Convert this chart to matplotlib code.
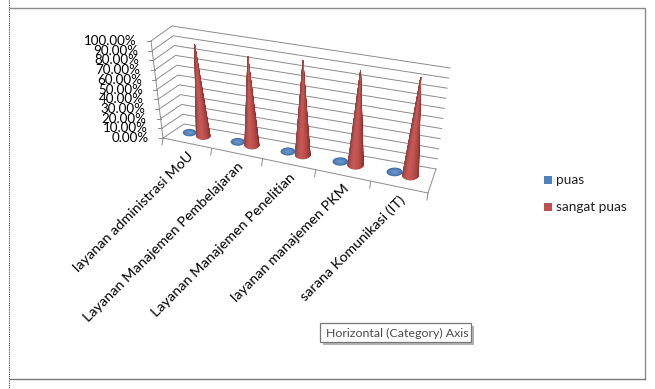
import numpy as np
import matplotlib
matplotlib.use("Agg")
import matplotlib.pyplot as plt
from matplotlib.patches import Polygon, Rectangle, Ellipse

plt.rcParams['font.family'] = ['Lato', 'DejaVu Sans']

categories = ["layanan administrasi MoU", "Layanan Manajemen Pembelajaran",
              "Layanan Manajemen Penelitian", "layanan manajemen PKM",
              "sarana Komunikasi (IT)"]
puas = [0.6, 0.6, 0.6, 0.6, 0.6]
sangat_puas = [93, 90, 95, 95, 98]
y_ticks = [0, 10, 20, 30, 40, 50, 60, 70, 80, 90, 100]
series_names = ["puas", "sangat puas"]

# corners of the 3d box as seen on screen (u along categories, v depth, h height)
floor_front = np.array([[163, 138], [428, 193]], float)
floor_back = np.array([[184, 124], [436, 169]], float)
top_front = np.array([[151, 41], [439, 93]], float)
top_back = np.array([[172, 26], [450, 68]], float)


def warp(u):
    return u - 0.1 * u * (1 - u)


def project(u, v, h):
    t = warp(u)
    f0 = floor_front[0] * (1 - t) + floor_front[1] * t
    b0 = floor_back[0] * (1 - t) + floor_back[1] * t
    f1 = top_front[0] * (1 - t) + top_front[1] * t
    b1 = top_back[0] * (1 - t) + top_back[1] * t
    low = f0 * (1 - v) + b0 * v
    high = f1 * (1 - v) + b1 * v
    return low * (1 - h / 100) + high * (h / 100)


def shade(c, k):
    c = np.array(matplotlib.colors.to_rgb(c))
    if k >= 0:
        return tuple(c + (1 - c) * k)
    return tuple(c * (1 + k))


fig = plt.figure(figsize=(6.55, 3.89), dpi=100)
ax = fig.add_axes([0, 0, 1, 1])
ax.set_xlim(0, 655)
ax.set_ylim(389, 0)
ax.axis("off")

# frame of the chart area and the screenshot edge
ax.plot([9, 9], [0, 389], color="#444444", lw=0.8, ls=(0, (1, 1)))
ax.plot([10, 645, 645], [8, 8, 379], color="#8a8a8a", lw=1)
ax.plot([10, 645], [379, 379], color="#7a7a7a", lw=1)

grid_c = "#8c8c8c"
for t in y_ticks:
    a = project(0, 0, t)
    b = project(0, 1, t)
    c = project(1, 1, t)
    ax.plot([a[0], b[0], c[0]], [a[1], b[1], c[1]], color=grid_c, lw=0.7)
    ax.plot([a[0] - 4, a[0]], [a[1], a[1]], color=grid_c, lw=0.7)
    ax.text(a[0] - 14, a[1], "%.2f%%" % t, ha="right", va="center",
            fontsize=9.6, color="black")

a = project(0, 0, 0)
b = project(0, 0, 100)
ax.plot([a[0], b[0]], [a[1], b[1]], color=grid_c, lw=0.7)
c = project(1, 0, 0)
ax.plot([a[0], c[0]], [a[1], c[1]], color=grid_c, lw=0.7)
d = project(1, 1, 0)
ax.plot([c[0], d[0]], [c[1], d[1]], color=grid_c, lw=0.7)

n = len(categories)
for i in range(n + 1):
    p = project(i / n, 0, 0)
    ax.plot([p[0], p[0] - 1], [p[1], p[1] + 7], color=grid_c, lw=0.7)


def cone(u, v, value, color, rx, ry, z):
    base = project(u, v, 0)
    top = project(u, v, value)
    # base rim first, the slanted side goes over it
    ax.add_patch(Ellipse(base, 2 * rx, 2 * ry, fc=shade(color, 0.12), ec="none", zorder=z))
    angles = np.linspace(0, np.pi, 30)
    for j in range(len(angles) - 1):
        a0, a1 = angles[j], angles[j + 1]
        p0 = base + np.array([rx * np.cos(a0), ry * 0.8 * np.sin(a0)])
        p1 = base + np.array([rx * np.cos(a1), ry * 0.8 * np.sin(a1)])
        m = (a0 + a1) / 2 / np.pi
        k = 0.06 - 0.55 * abs(m - 0.6) ** 1.5 * 2
        ax.add_patch(Polygon([top, p0, p1], closed=True, fc=shade(color, k),
                             ec=shade(color, k), lw=0.5, zorder=z))


for i in range(n):
    u = (i + 0.5) / n
    width = project(u + 0.1, 0.5, 0)[0] - project(u - 0.1, 0.5, 0)[0]
    rx = width * 0.145
    ry = rx * 0.6
    # blue discs first, they sit behind the red cones
    base = project(u - 0.035, 0.55, puas[i])
    for s, k in [(1.0, -0.12), (0.75, 0.02), (0.45, 0.12)]:
        ax.add_patch(Ellipse(base, 2 * rx * s, 2 * ry * 0.9 * s,
                             fc=shade("#4F81BD", k), ec="none", zorder=3))
    cone(u + 0.022, 0.55, sangat_puas[i], "#C0504D", rx, ry, 4 + i)

    p = project((i + 0.5) / n, 0, 0)
    ax.text(p[0], p[1] + 7, categories[i], rotation=45, ha="right", va="top",
            rotation_mode="anchor", fontsize=10.4, color="black")

# legend
ax.add_patch(Rectangle((544, 176), 8, 8, fc="#4F81BD", ec="none"))
ax.add_patch(Rectangle((544, 203), 8, 8, fc="#C0504D", ec="none"))
ax.text(556, 180, series_names[0], va="center", fontsize=9.8, color="#222222")
ax.text(556, 207, series_names[1], va="center", fontsize=9.8, color="#222222")

# tooltip from the spreadsheet program
ax.add_patch(Rectangle((323, 326), 151, 19, fc="#b5b5b5", ec="none", zorder=9))
ax.add_patch(Rectangle((320, 323), 151, 19, fc="white", ec="#767676", lw=0.9, zorder=10))
ax.text(325.5, 333, "Horizontal (Category) Axis", va="center", fontsize=8.9,
        color="#4c4c4c", zorder=11)

fig.savefig("out.png", dpi=100)
